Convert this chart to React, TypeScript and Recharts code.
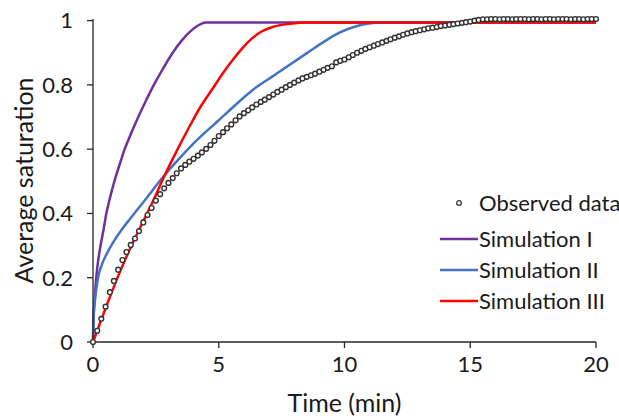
import { Line, LineChart, XAxis, YAxis } from 'recharts';

// observed points, one every 10 s
const obsTime = [
  0, 0.17, 0.33, 0.5, 0.67, 0.83, 1, 1.17, 1.33, 1.5, 1.67, 1.83,
  2, 2.17, 2.33, 2.5, 2.67, 2.83, 3, 3.17, 3.33, 3.5, 3.67, 3.83,
  4, 4.17, 4.33, 4.5, 4.67, 4.83, 5, 5.17, 5.33, 5.5, 5.67, 5.83,
  6, 6.17, 6.33, 6.5, 6.67, 6.83, 7, 7.17, 7.33, 7.5, 7.67, 7.83,
  8, 8.17, 8.33, 8.5, 8.67, 8.83, 9, 9.17, 9.33, 9.5, 9.67, 9.83,
  10, 10.17, 10.33, 10.5, 10.67, 10.83, 11, 11.17, 11.33, 11.5, 11.67, 11.83,
  12, 12.17, 12.33, 12.5, 12.67, 12.83, 13, 13.17, 13.33, 13.5, 13.67, 13.83,
  14, 14.17, 14.33, 14.5, 14.67, 14.83, 15, 15.17, 15.33, 15.5, 15.67, 15.83,
  16, 16.17, 16.33, 16.5, 16.67, 16.83, 17, 17.17, 17.33, 17.5, 17.67, 17.83,
  18, 18.17, 18.33, 18.5, 18.67, 18.83, 19, 19.17, 19.33, 19.5, 19.67, 19.83,
  20,
];
const obsSat = [
  0, 0.035, 0.072, 0.11, 0.155, 0.19, 0.225, 0.255, 0.28, 0.302, 0.322, 0.345,
  0.372, 0.395, 0.417, 0.44, 0.46, 0.478, 0.495, 0.51, 0.525, 0.54, 0.551, 0.561,
  0.57, 0.58, 0.59, 0.601, 0.613, 0.626, 0.641, 0.653, 0.665, 0.677, 0.69, 0.702,
  0.712, 0.721, 0.73, 0.739, 0.747, 0.754, 0.762, 0.77, 0.778, 0.785, 0.793, 0.8,
  0.807, 0.814, 0.82, 0.825, 0.83, 0.835, 0.841, 0.847, 0.853, 0.858, 0.87, 0.875,
  0.879, 0.886, 0.893, 0.9, 0.906, 0.912, 0.917, 0.922, 0.927, 0.932, 0.937, 0.942,
  0.947, 0.951, 0.956, 0.96, 0.964, 0.967, 0.97, 0.973, 0.976, 0.978, 0.98, 0.983,
  0.985, 0.987, 0.989, 0.991, 0.993, 0.995, 0.997, 1.0, 1.002, 1.004, 1.004, 1.005,
  1.005, 1.004, 1.005, 1.005, 1.004, 1.005, 1.005, 1.005, 1.004, 1.005, 1.005, 1.004,
  1.005, 1.005, 1.004, 1.005, 1.005, 1.005, 1.004, 1.005, 1.005, 1.004, 1.005, 1.005,
  1.005,
];

const sim1Time = [
  0, 0.02, 0.06, 0.13, 0.2, 0.3, 0.42, 0.53, 0.68, 0.85, 1.05, 1.26, 1.52, 1.8,
  2.1, 2.42, 2.78, 3.17, 3.55, 3.85, 4.1, 4.3, 4.5, 20,
];
const sim1Sat = [
  0, 0.07, 0.13, 0.2, 0.25, 0.3, 0.35, 0.4, 0.45, 0.5, 0.55, 0.6, 0.65, 0.7,
  0.75, 0.8, 0.85, 0.9, 0.94, 0.965, 0.981, 0.99, 0.994, 0.994,
];

const sim2Time = [
  0, 0.02, 0.08, 0.2, 0.35, 0.55, 0.8, 1.1, 1.47, 2.0, 2.8, 3.5, 4.0, 5.0, 5.84,
  6.31, 7.17, 8.49, 9.3, 9.82, 10.4, 10.9, 11.5, 20,
];
const sim2Sat = [
  0, 0.07, 0.13, 0.2, 0.24, 0.275, 0.31, 0.345, 0.383, 0.435, 0.515, 0.577, 0.618,
  0.69, 0.75, 0.782, 0.828, 0.898, 0.94, 0.963, 0.981, 0.99, 0.994, 0.994,
];

const sim3Time = [
  0, 0.5, 1.0, 1.5, 1.9, 2.4, 2.8, 3.3, 3.8, 4.3, 4.72, 5.2, 5.6, 5.95, 6.3, 6.7,
  7.17, 7.83, 8.5, 20,
];
const sim3Sat = [
  0, 0.105, 0.205, 0.295, 0.36, 0.44, 0.51, 0.59, 0.665, 0.735, 0.784, 0.84, 0.882,
  0.915, 0.943, 0.966, 0.981, 0.99, 0.994, 0.994,
];

const xTicks = [0, 5, 10, 15, 20];
const yTicks = [0, 0.2, 0.4, 0.6, 0.8, 1];

const seriesNames = ['Observed data', 'Simulation I', 'Simulation II', 'Simulation III'];

const FONT = 'Lato, Carlito, Calibri, sans-serif';
const AXIS = '#262626';
const COLORS = ['#333333', '#7030A0', '#4472C4', '#FF0000'];

const toPoints = (ts: number[], ys: number[]) => ts.map((t, i) => ({ t, y: ys[i] }));

const observed = toPoints(obsTime, obsSat);
const sim1 = toPoints(sim1Time, sim1Sat);
const sim2 = toPoints(sim2Time, sim2Sat);
const sim3 = toPoints(sim3Time, sim3Sat);

function LegendBox() {
  return (
    <div
      style={{
        position: 'absolute',
        left: 438,
        top: 187,
        fontFamily: FONT,
        fontSize: 22,
        color: '#1a1a1a',
        lineHeight: '22px',
        whiteSpace: 'nowrap',
      }}
    >
      {seriesNames.map((name, i) => (
        <div
          key={name}
          style={{ display: 'flex', alignItems: 'center', height: 31, marginBottom: i === 0 ? 5 : 0 }}
        >
          <svg width={40} height={10} style={{ marginRight: 1 }}>
            {i === 0 ? (
              <circle cx={21} cy={5} r={2.3} fill="#fff" stroke={COLORS[0]} strokeWidth={1.3} />
            ) : (
              <line x1={2} y1={5} x2={40} y2={5} stroke={COLORS[i]} strokeWidth={2.5} />
            )}
          </svg>
          <span>{name}</span>
        </div>
      ))}
    </div>
  );
}

export default function App() {
  return (
    <div style={{ position: 'absolute', left: 0, top: 0, width: 619, height: 416, background: '#fff' }}>
      <LineChart width={619} height={416} margin={{ top: 19, right: 23, left: 0, bottom: 0 }}>
        <XAxis
          type="number"
          dataKey="t"
          domain={[0, 20]}
          ticks={xTicks}
          height={74}
          stroke={AXIS}
          strokeWidth={1.3}
          tickSize={6}
          tickMargin={8}
          tick={{ fill: '#1a1a1a', fontSize: 22, fontFamily: FONT }}
          label={{
            content: ({ viewBox }: any) => (
              <text
                x={viewBox.x + viewBox.width / 2}
                y={412}
                textAnchor="middle"
                fill="#1a1a1a"
                fontSize={25}
                fontFamily={FONT}
              >
                Time (min)
              </text>
            ),
          }}
        />
        <YAxis
          type="number"
          domain={[0, 1.005]}
          ticks={yTicks}
          width={93}
          stroke={AXIS}
          strokeWidth={1.3}
          tickSize={6}
          tickMargin={14}
          tick={{ fill: '#1a1a1a', fontSize: 22, fontFamily: FONT }}
          label={{
            content: ({ viewBox }: any) => {
              const cy = viewBox.y + viewBox.height / 2;
              return (
                <text
                  x={23}
                  y={cy}
                  transform={`rotate(-90, 23, ${cy})`}
                  textAnchor="middle"
                  dominantBaseline="central"
                  fill="#1a1a1a"
                  fontSize={25}
                  fontFamily={FONT}
                >
                  Average saturation
                </text>
              );
            },
          }}
        />
        <Line
          data={observed}
          dataKey="y"
          name={seriesNames[0]}
          stroke="none"
          dot={{ r: 2.4, fill: '#fff', stroke: COLORS[0], strokeWidth: 1.4 }}
          isAnimationActive={false}
        />
        <Line
          data={sim1}
          dataKey="y"
          name={seriesNames[1]}
          type="monotone"
          stroke={COLORS[1]}
          strokeWidth={2.5}
          dot={false}
          isAnimationActive={false}
        />
        <Line
          data={sim2}
          dataKey="y"
          name={seriesNames[2]}
          type="monotone"
          stroke={COLORS[2]}
          strokeWidth={2.5}
          dot={false}
          isAnimationActive={false}
        />
        <Line
          data={sim3}
          dataKey="y"
          name={seriesNames[3]}
          type="monotone"
          stroke={COLORS[3]}
          strokeWidth={2.5}
          dot={false}
          isAnimationActive={false}
        />
      </LineChart>
      <LegendBox />
    </div>
  );
}
